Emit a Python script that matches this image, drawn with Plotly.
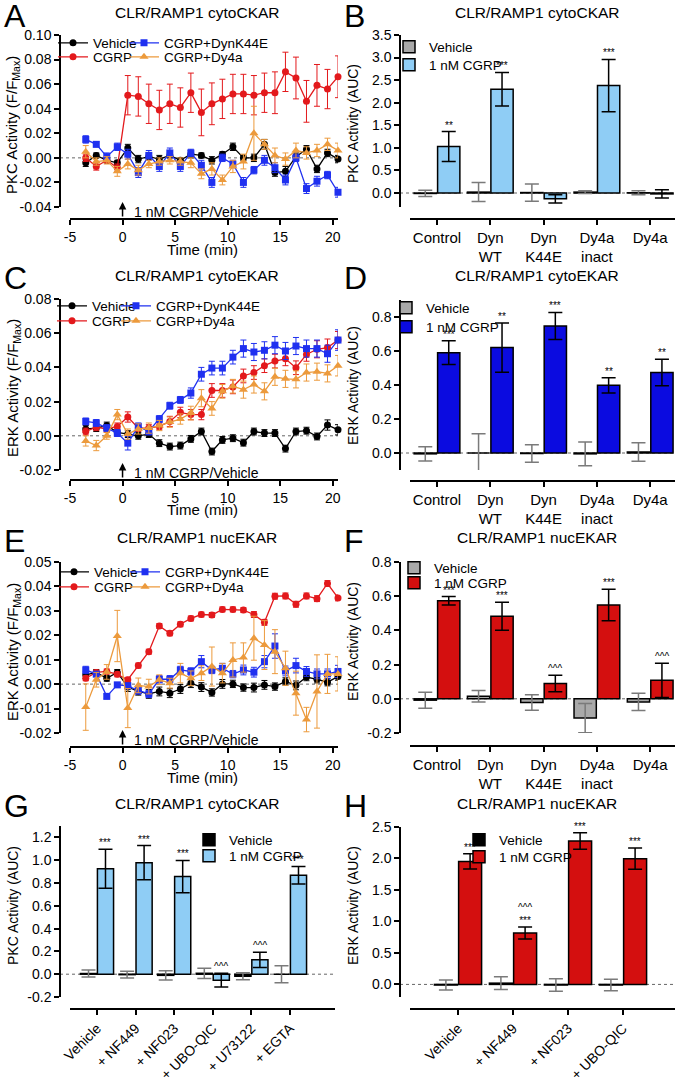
import plotly.graph_objects as go

# %% data
T = [-3.5, -2.5, -1.5, -0.5, 0.5, 1.5, 2.5, 3.5, 4.5, 5.5, 6.5, 7.5, 8.5,
     9.5, 10.5, 11.5, 12.5, 13.5, 14.5, 15.5, 16.5, 17.5, 18.5, 19.5, 20.5]
SERIES = ["Vehicle", "CGRP", "CGRP+DynK44E", "CGRP+Dy4a"]

# A: PKC cytoCKAR time course
A_veh = [-0.004, 0.002, -0.002, -0.004, 0.008, -0.001, 0.001, -0.001, 0.002, -0.002, 0.003, 0.002, -0.002,
         0.003, 0.009, 0.000, 0.000, 0.011, -0.012, -0.011, 0.001, 0.007, -0.009, 0.004, -0.001]
A_veh_err = [0.003, 0.002, 0.002, 0.002, 0.003, 0.003, 0.002, 0.003, 0.002, 0.002, 0.003, 0.002, 0.003,
             0.002, 0.003, 0.002, 0.003, 0.004, 0.003, 0.004, 0.003, 0.003, 0.003, 0.003, 0.003]
A_cgrp = [0.000, -0.007, -0.002, -0.008, 0.051, 0.050, 0.044, 0.039, 0.044, 0.041, 0.053, 0.037, 0.044,
          0.048, 0.052, 0.052, 0.051, 0.053, 0.053, 0.070, 0.065, 0.046, 0.059, 0.056, 0.066]
A_cgrp_err = [0.003, 0.003, 0.002, 0.003, 0.016, 0.016, 0.016, 0.016, 0.016, 0.016, 0.016, 0.019, 0.017,
              0.016, 0.016, 0.016, 0.016, 0.016, 0.017, 0.016, 0.017, 0.017, 0.017, 0.016, 0.017]
A_dyn = [0.015, 0.011, 0.001, 0.009, 0.003, -0.012, 0.002, -0.007, 0.004, -0.007, 0.004, -0.006, -0.020,
         0.000, -0.005, -0.020, -0.010, -0.002, -0.008, -0.018, 0.000, -0.025, -0.019, -0.014, -0.028]
A_dyn_err = [0.003, 0.002, 0.003, 0.003, 0.004, 0.004, 0.004, 0.004, 0.004, 0.004, 0.003, 0.004, 0.004,
             0.003, 0.003, 0.004, 0.003, 0.004, 0.004, 0.004, 0.003, 0.004, 0.004, 0.003, 0.004]
A_dy4a = [0.005, -0.003, -0.002, -0.011, -0.005, -0.010, -0.005, -0.003, -0.002, -0.003, -0.004, -0.013, -0.009,
          -0.018, -0.007, -0.003, 0.020, 0.011, 0.002, -0.001, 0.006, 0.004, 0.006, 0.011, 0.006]
A_dy4a_err = [0.005, 0.003, 0.003, 0.004, 0.004, 0.004, 0.003, 0.003, 0.003, 0.003, 0.004, 0.004, 0.005,
              0.004, 0.005, 0.006, 0.022, 0.004, 0.006, 0.005, 0.006, 0.005, 0.005, 0.005, 0.006]

# C: ERK cytoEKAR time course
C_veh = [0.004, 0.0045, 0.006, 0.002, 0.001, 0.000, 0.001, -0.0043, -0.0063, -0.0057, -0.0018, 0.0025, -0.0092,
         -0.0024, -0.0014, -0.004, 0.0025, 0.0016, 0.0016, -0.0075, 0.0025, 0.003, -0.0004, 0.0063, 0.0035]
C_veh_err = [0.002, 0.002, 0.002, 0.002, 0.002, 0.002, 0.002, 0.002, 0.002, 0.002, 0.002, 0.002, 0.002,
             0.002, 0.002, 0.002, 0.002, 0.002, 0.002, 0.002, 0.002, 0.002, 0.002, 0.003, 0.003]
C_cgrp = [0.0025, 0.005, 0.004, 0.0055, 0.011, 0.0045, 0.0045, 0.0055, 0.0084, 0.0137, 0.0124, 0.0124, 0.0265,
          0.0265, 0.0286, 0.035, 0.037, 0.041, 0.0437, 0.045, 0.0398, 0.0476, 0.0506, 0.0516, 0.056]
C_cgrp_err = [0.002, 0.002, 0.002, 0.002, 0.003, 0.002, 0.002, 0.002, 0.003, 0.003, 0.003, 0.003, 0.004,
              0.004, 0.004, 0.004, 0.004, 0.004, 0.004, 0.004, 0.004, 0.004, 0.005, 0.005, 0.005]
C_dyn = [0.0084, 0.0075, 0.0045, 0.0016, -0.0043, 0.0055, 0.0025, 0.0098, 0.0176, 0.021, 0.025, 0.036, 0.0396,
         0.0396, 0.046, 0.051, 0.049, 0.050, 0.053, 0.0496, 0.0525, 0.051, 0.051, 0.048, 0.056]
C_dyn_err = [0.002, 0.002, 0.002, 0.002, 0.004, 0.002, 0.002, 0.002, 0.002, 0.002, 0.003, 0.004, 0.004,
             0.004, 0.004, 0.005, 0.005, 0.005, 0.005, 0.005, 0.005, 0.005, 0.005, 0.005, 0.006]
C_dy4a = [-0.003, -0.0057, 0.000, 0.0124, 0.001, 0.004, 0.0045, 0.006, 0.008, 0.0098, 0.0133, 0.022, 0.016,
          0.026, 0.029, 0.027, 0.030, 0.026, 0.0345, 0.0333, 0.033, 0.037, 0.0375, 0.0365, 0.041]
C_dy4a_err = [0.003, 0.003, 0.002, 0.003, 0.003, 0.003, 0.003, 0.003, 0.003, 0.003, 0.004, 0.005, 0.004,
              0.004, 0.004, 0.005, 0.005, 0.005, 0.005, 0.005, 0.005, 0.005, 0.005, 0.005, 0.006]

# E: ERK nucEKAR time course
E_veh = [0.0038, 0.0048, 0.0024, 0.0048, -0.0012, -0.003, -0.004, -0.003, -0.0037, -0.002, 0.0004, -0.0012, -0.0034,
         0.0001, 0.0001, -0.0014, -0.0014, -0.0003, -0.001, 0.0011, -0.0005, 0.0029, 0.002, 0.0008, 0.0031]
E_veh_err = [0.0015, 0.0012, 0.0012, 0.0012, 0.0018, 0.0015, 0.0018, 0.0018, 0.0018, 0.0018, 0.0018, 0.0018, 0.0015,
             0.0018, 0.0015, 0.0015, 0.0018, 0.0018, 0.0015, 0.0015, 0.0018, 0.0015, 0.0015, 0.0015, 0.0015]
E_cgrp = [0.0024, 0.0048, 0.0052, 0.004, 0.0018, 0.0076, 0.0133, 0.0238, 0.0208, 0.0245, 0.0269, 0.0285, 0.0283,
          0.0306, 0.0306, 0.0303, 0.0285, 0.0253, 0.036, 0.0361, 0.0327, 0.0361, 0.035, 0.0412, 0.0353]
E_cgrp_err = [0.001, 0.001, 0.001, 0.001, 0.001, 0.001, 0.001, 0.001, 0.001, 0.001, 0.001, 0.001, 0.001,
              0.001, 0.001, 0.001, 0.0012, 0.0012, 0.0012, 0.0012, 0.0012, 0.0012, 0.0012, 0.0012, 0.0012]
E_dyn = [0.0058, 0.0041, -0.005, -0.0003, -0.0007, -0.0026, -0.004, 0.002, 0.002, 0.0058, 0.0052, 0.0092, 0.0058,
         0.0065, 0.0041, 0.0058, 0.0049, 0.0092, 0.0156, 0.0054, 0.0076, 0.0052, 0.0042, 0.0042, 0.0052]
E_dyn_err = [0.0015, 0.001, 0.001, 0.001, 0.0012, 0.0015, 0.0015, 0.0015, 0.0015, 0.0015, 0.0015, 0.0025, 0.0015,
             0.002, 0.0015, 0.002, 0.002, 0.0025, 0.005, 0.002, 0.003, 0.002, 0.002, 0.002, 0.0025]
E_dy4a = [-0.0094, 0.0018, 0.005, 0.0197, -0.0098, -0.0005, -0.001, 0.0018, 0.0004, 0.0045, 0.0024, 0.0045, 0.0072,
          0.0045, 0.0099, 0.0109, 0.0188, 0.016, 0.0133, 0.0065, -0.0037, -0.0145, -0.003, 0.0042, 0.0042]
E_dy4a_err = [0.0095, 0.003, 0.003, 0.0105, 0.008, 0.003, 0.003, 0.002, 0.002, 0.004, 0.003, 0.003, 0.008,
              0.004, 0.007, 0.006, 0.009, 0.01, 0.009, 0.007, 0.009, 0.005, 0.015, 0.008, 0.007]

# B / D / F: AUC bars
DYN_CATS = ["Control", "Dyn<br>WT", "Dyn<br>K44E", "Dy4a<br>inact", "Dy4a"]
BAR_NAMES = ["Vehicle", "1 nM CGRP"]

B_veh = [-0.01, 0.02, 0.01, 0.02, 0.005]
B_veh_err = [0.07, 0.21, 0.19, 0.03, 0.045]
B_cgrp = [1.03, 2.30, -0.13, 2.38, -0.02]
B_cgrp_err = [0.33, 0.37, 0.09, 0.58, 0.09]
B_sig = ["**", "***", "", "***", ""]

D_veh = [-0.005, 0.0, -0.003, -0.005, 0.006]
D_veh_err = [0.042, 0.113, 0.052, 0.07, 0.055]
D_cgrp = [0.59, 0.62, 0.747, 0.398, 0.473]
D_cgrp_err = [0.07, 0.145, 0.08, 0.045, 0.078]
D_sig = ["***", "**", "***", "**", "**"]

F_veh = [-0.008, 0.015, -0.022, -0.113, -0.018]
F_veh_err = [0.047, 0.033, 0.045, 0.085, 0.05]
F_cgrp = [0.573, 0.483, 0.089, 0.548, 0.108]
F_cgrp_err = [0.025, 0.082, 0.048, 0.092, 0.1]
F_sig = ["***", "***", "^^^", "***", "^^^"]

# G / H: inhibitor bars
G_CATS = ["Vehicle", "+ NF449", "+ NF023", "+ UBO-QIC", "+ U73122", "+ EGTA"]
G_veh = [0.006, -0.004, -0.01, 0.008, -0.018, 0.0]
G_veh_err = [0.03, 0.03, 0.04, 0.045, 0.03, 0.075]
G_cgrp = [0.925, 0.978, 0.856, -0.052, 0.126, 0.868]
G_cgrp_err = [0.17, 0.15, 0.142, 0.06, 0.067, 0.077]
G_sig = ["***", "***", "***", "^^^", "^^^", "***"]

H_CATS = ["Vehicle", "+ NF449", "+ NF023", "+ UBO-QIC"]
H_veh = [-0.01, 0.02, -0.01, -0.01]
H_veh_err = [0.08, 0.1, 0.1, 0.09]
H_cgrp = [1.954, 0.816, 2.277, 1.997]
H_cgrp_err = [0.12, 0.095, 0.13, 0.17]
H_sig = ["***", "^^^<br>***", "***", "***"]

# tick values
TIME_TICKS = [-5, 0, 5, 10, 15, 20]
A_YT = [-0.04, -0.02, 0.0, 0.02, 0.04, 0.06, 0.08, 0.10]
B_YT = [0.0, 0.5, 1.0, 1.5, 2.0, 2.5, 3.0, 3.5]
C_YT = [-0.02, 0.0, 0.02, 0.04, 0.06, 0.08]
D_YT = [0.0, 0.2, 0.4, 0.6, 0.8]
E_YT = [-0.02, -0.01, 0.0, 0.01, 0.02, 0.03, 0.04, 0.05]
F_YT = [-0.2, 0.0, 0.2, 0.4, 0.6, 0.8]
G_YT = [-0.2, 0.0, 0.2, 0.4, 0.6, 0.8, 1.0, 1.2]
H_YT = [0.0, 0.5, 1.0, 1.5, 2.0, 2.5]

# %% style
W, H = 677, 1077
FONT = "Liberation Sans"
LINE_COLORS = ["#000000", "#e3191c", "#1f30f0", "#ec9a3c"]
SYMBOLS = ["circle", "circle", "square", "triangle-up"]
BARGAP = 0.12


def fx(p):
    return p / W


def fy(p):
    return 1 - p / H


fig = go.Figure()
legend_count = [1]


def new_legend(sym_x, cy):
    legend_count[0] += 1
    name = f"legend{legend_count[0]}"
    fig.layout[name] = dict(x=fx(sym_x - 24), y=fy(cy), xanchor="left", yanchor="middle",
                            bgcolor="rgba(0,0,0,0)", borderwidth=0, itemwidth=30,
                            font=dict(family=FONT, size=13.5, color="black"))
    return name


def setup_axes(n, g, xrange, yrange, yticks, yfmt, xticks=None, xtext=None, tickangle=0, xfont=14):
    xs = "" if n == 1 else str(n)
    common = dict(showline=True, linecolor="black", linewidth=1.5, ticks="outside", ticklen=5,
                  tickwidth=1.5, tickcolor="black", showgrid=False, zeroline=False, automargin=False,
                  tickfont=dict(family=FONT, size=14, color="black"), anchor="free")
    xt = xtext if xtext is not None else [str(v) for v in xticks]
    fig.layout["xaxis" + xs] = dict(common, domain=[fx(g["xl"]), fx(g["xr"])], range=xrange,
                                    position=fy(g["xline"]), tickvals=xticks, ticktext=xt,
                                    tickangle=tickangle,
                                    tickfont=dict(family=FONT, size=xfont, color="black"))
    fig.layout["yaxis" + xs] = dict(common, domain=[fy(g["ybot"]), fy(g["ytop"])], range=yrange,
                                    position=fx(g["yline"]), tickvals=yticks,
                                    ticktext=[format(v, yfmt) for v in yticks])
    fig.add_shape(type="line", xref="paper", yref="y" + xs, x0=fx(g["yline"]), x1=fx(g["xr"]),
                  y0=0, y1=0, line=dict(color="#666666", width=1, dash="dot"), layer="below")


def panel_text(g, letter, title, ytitle, ytitle_y, ysize):
    fig.add_annotation(text=letter, x=fx(g["yline"] - 58), y=fy(g["top"] + 16), xref="paper", yref="paper",
                       xanchor="left", yanchor="middle", showarrow=False,
                       font=dict(family=FONT, size=32, color="black"))
    fig.add_annotation(text=title, x=fx(g["yline"] + 137), y=fy(g["top"] + 13), xref="paper", yref="paper",
                       xanchor="center", yanchor="middle", showarrow=False,
                       font=dict(family=FONT, size=15.5, color="black"))
    fig.add_annotation(text=ytitle, x=fx(g["yline"] - 47), y=fy(ytitle_y), xref="paper", yref="paper",
                       textangle=-90, xanchor="center", yanchor="middle", showarrow=False,
                       font=dict(family=FONT, size=ysize, color="black"))


def line_panel(n, g, data, yrange, yticks, letter, title, ytitle, ytitle_y, leg_pos):
    xs = "" if n == 1 else str(n)
    for k, (vals, errs) in enumerate(data):
        fig.add_trace(go.Scatter(
            x=T, y=vals, name=SERIES[k], mode="lines+markers", xaxis="x" + xs, yaxis="y" + xs,
            line=dict(color=LINE_COLORS[k], width=1.3),
            marker=dict(symbol=SYMBOLS[k], size=8 if k == 3 else 7, color=LINE_COLORS[k]),
            error_y=dict(type="data", array=errs, color=LINE_COLORS[k], thickness=1, width=3),
            legend=new_legend(*leg_pos[k]), cliponaxis=False))
    setup_axes(n, g, [-5, 20.5], yrange, yticks, ".2f", xticks=TIME_TICKS)
    panel_text(g, letter, title, ytitle, ytitle_y, 15)
    fig.add_annotation(text="Time (min)", x=fx(202), y=fy(g["xline"] + 30), xref="paper", yref="paper",
                       xanchor="center", yanchor="middle", showarrow=False,
                       font=dict(family=FONT, size=15, color="black"))
    fig.add_annotation(text="", x=0, xref="x" + xs, y=fy(g["xline"] - 17), yref="paper",
                       ax=0, ay=16, showarrow=True, arrowhead=2, arrowsize=1, arrowwidth=1.5,
                       arrowcolor="black")
    fig.add_annotation(text="1 nM CGRP/Vehicle", x=fx(132), y=fy(g["xline"] - 7), xref="paper", yref="paper",
                       xanchor="left", yanchor="middle", showarrow=False,
                       font=dict(family=FONT, size=14, color="black"))


def bar_panel(n, g, cats, veh, veh_err, cgrp, cgrp_err, sig, colors, yrange, yticks, letter, title,
              ytitle, ytitle_y, leg_pos, tickangle=0, xfont=15):
    xs = "" if n == 1 else str(n)
    idx = list(range(len(cats)))
    for k, (vals, errs) in enumerate([(veh, veh_err), (cgrp, cgrp_err)]):
        fig.add_trace(go.Bar(
            x=idx, y=vals, name=BAR_NAMES[k], xaxis="x" + xs, yaxis="y" + xs,
            marker=dict(color=colors[k], line=dict(color="black", width=1.5)),
            error_y=dict(type="data", array=errs, color="#7a7a7a" if k == 0 else "black",
                         thickness=1.5, width=7),
            legend=new_legend(*leg_pos[k])))
    xr0 = (g["xl"] - g["c0"]) / g["step"]
    xr1 = (g["xr"] - g["c0"]) / g["step"]
    setup_axes(n, g, [xr0, xr1], yrange, yticks, ".1f", xticks=idx, xtext=cats, tickangle=tickangle,
               xfont=xfont)
    panel_text(g, letter, title, ytitle, ytitle_y, 14)
    off = (1 - BARGAP) / 4
    for i, s in enumerate(sig):
        if s:
            fig.add_annotation(text=s, x=i + off, xref="x" + xs, y=cgrp[i] + cgrp_err[i], yref="y" + xs,
                               xanchor="center", yanchor="bottom", showarrow=False, yshift=-1,
                               font=dict(family=FONT, size=10, color="black"))


LEFT = dict(yline=60, xl=70, xr=338)
RIGHT = dict(yline=400, xl=410, xr=675)
geo = {
    "A": dict(LEFT, top=0, ytop=35, ybot=207, xline=219),
    "B": dict(RIGHT, top=0, ytop=35, ybot=207, xline=219, c0=437, step=53.3),
    "C": dict(LEFT, top=262, ytop=299, ybot=470, xline=480),
    "D": dict(RIGHT, top=262, ytop=300, ybot=470, xline=481, c0=437, step=53.3),
    "E": dict(LEFT, top=525, ytop=562, ybot=733, xline=747),
    "F": dict(RIGHT, top=525, ytop=562, ybot=733, xline=746, c0=437, step=53.3),
    "G": dict(LEFT, top=790, ytop=826, ybot=997, xline=1009, xr=335, c0=97, step=38.6),
    "H": dict(RIGHT, top=790, ytop=827, ybot=997, xline=1009, c0=458, step=55),
}

PKC_T = "PKC Activity (F/F<sub>Max</sub>)"
ERK_T = "ERK Activity (F/F<sub>Max</sub>)"

line_panel(1, geo["A"], [(A_veh, A_veh_err), (A_cgrp, A_cgrp_err), (A_dyn, A_dyn_err), (A_dy4a, A_dy4a_err)],
           [-0.04, 0.10], A_YT, "A", "CLR/RAMP1 cytoCKAR", PKC_T, 125,
           [(77, 43), (77, 57), (148, 43), (148, 57)])
bar_panel(2, geo["B"], DYN_CATS, B_veh, B_veh_err, B_cgrp, B_cgrp_err, B_sig, ["#a9a9a9", "#8fcdf5"],
          [-0.31, 3.5], B_YT, "B", "CLR/RAMP1 cytoCKAR", "PKC Activity (AUC)", 124,
          [(413, 47), (413, 65)])
line_panel(3, geo["C"], [(C_veh, C_veh_err), (C_cgrp, C_cgrp_err), (C_dyn, C_dyn_err), (C_dy4a, C_dy4a_err)],
           [-0.02, 0.08], C_YT, "C", "CLR/RAMP1 cytoEKAR", ERK_T, 388,
           [(76, 306), (76, 321), (140, 306), (140, 321)])
bar_panel(4, geo["D"], DYN_CATS, D_veh, D_veh_err, D_cgrp, D_cgrp_err, D_sig, ["#a9a9a9", "#0b0be0"],
          [-0.1, 0.9], D_YT, "D", "CLR/RAMP1 cytoEKAR", "ERK Activity (AUC)", 386,
          [(410, 308), (410, 327)])
line_panel(5, geo["E"], [(E_veh, E_veh_err), (E_cgrp, E_cgrp_err), (E_dyn, E_dyn_err), (E_dy4a, E_dy4a_err)],
           [-0.02, 0.05], E_YT, "E", "CLR/RAMP1 nucEKAR", ERK_T, 652,
           [(78, 572), (78, 587), (149, 572), (149, 587)])
bar_panel(6, geo["F"], DYN_CATS, F_veh, F_veh_err, F_cgrp, F_cgrp_err, F_sig, ["#a9a9a9", "#d40f0f"],
          [-0.2, 0.8], F_YT, "F", "CLR/RAMP1 nucEKAR", "ERK Activity (AUC)", 642,
          [(418, 568), (418, 583)])
bar_panel(7, geo["G"], G_CATS, G_veh, G_veh_err, G_cgrp, G_cgrp_err, G_sig, ["#000000", "#8fcdf5"],
          [-0.2, 1.3], G_YT, "G", "CLR/RAMP1 cytoCKAR", "PKC Activity (AUC)", 906,
          [(213, 840), (213, 856)], tickangle=-45, xfont=14)
bar_panel(8, geo["H"], H_CATS, H_veh, H_veh_err, H_cgrp, H_cgrp_err, H_sig, ["#000000", "#d40f0f"],
          [-0.2, 2.5], H_YT, "H", "CLR/RAMP1 nucEKAR", "ERK Activity (AUC)", 906,
          [(483, 840), (483, 857)], tickangle=-45, xfont=14)

fig.update_layout(width=W, height=H, margin=dict(l=0, r=0, t=0, b=0, autoexpand=False),
                  plot_bgcolor="white", paper_bgcolor="white", barmode="group", bargap=BARGAP,
                  bargroupgap=0.05, showlegend=True, font=dict(family=FONT, color="black"))

# the page body has a default 8px margin; drop it so the figure sits at the window corner
fig.write_html("out.html", config={"displayModeBar": False},
               post_script="document.body.style.margin='0';document.body.style.overflow='hidden';")
